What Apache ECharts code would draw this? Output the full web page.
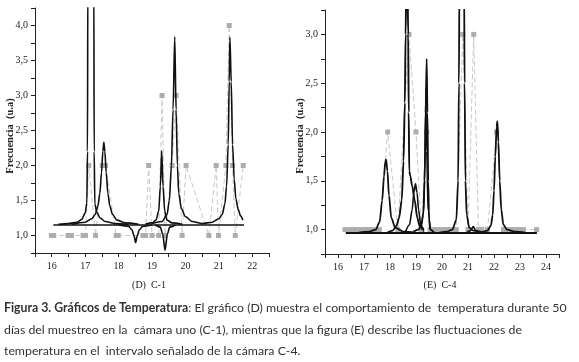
<!DOCTYPE html>
<html><head><meta charset="utf-8">
<script src="https://cdn.jsdelivr.net/npm/echarts@6/dist/echarts.min.js"></script>
<style>html,body{margin:0;padding:0;background:#fff}#c{width:579px;height:362px}</style>
</head><body><div id="c"></div>
<script>
// ---------- (D) C-1 ----------
const dMuestras = [[15.99,1],[16.06,1],[16.49,1],[16.59,1],[16.94,1],[17.01,1],[17.11,2],[17.31,1],[17.51,2],[17.61,2],[17.93,1],[17.99,1],[18.73,1],[18.81,1],[18.90,2],[19.0,1],[19.2,1],[19.30,3],[19.39,1],[19.60,2],[19.72,3],[19.90,1],[20.02,2],[20.70,1],[20.92,2],[20.99,1],[21.21,2],[21.31,4],[21.41,2],[21.49,1],[21.73,2]];
const dBase = [[16.05,1.15],[21.75,1.15]];
const dPico1 = [[16.2,1.16],[16.5,1.17],[16.75,1.19],[16.9,1.23],[17.0,1.32],[17.05,1.46],[17.07,2.2],[17.08,4.6],[17.17,8],[17.26,4.6],[17.27,2.2],[17.29,1.45],[17.35,1.33],[17.45,1.25],[17.6,1.2],[17.9,1.17],[18.3,1.16]];
const dPico2 = [[16.6,1.16],[17.0,1.19],[17.2,1.24],[17.3,1.3],[17.38,1.42],[17.44,1.6],[17.49,1.9],[17.53,2.2],[17.56,2.33],[17.59,2.2],[17.63,1.9],[17.68,1.6],[17.74,1.42],[17.82,1.3],[17.95,1.22],[18.2,1.18],[18.6,1.16]];
const dValle1 = [[18.0,1.15],[18.3,1.13],[18.4,1.08],[18.46,1.0],[18.51,0.9],[18.56,1.0],[18.62,1.08],[18.72,1.13],[19.0,1.15]];
const dPico3 = [[18.8,1.16],[19.0,1.18],[19.12,1.22],[19.2,1.35],[19.25,1.7],[19.29,2.21],[19.33,1.7],[19.38,1.35],[19.45,1.22],[19.6,1.18],[19.9,1.16]];
const dValle2 = [[19.1,1.15],[19.25,1.12],[19.32,1.02],[19.39,0.79],[19.46,1.02],[19.53,1.12],[19.7,1.15]];
const dPico4 = [[19.0,1.17],[19.3,1.2],[19.45,1.3],[19.52,1.5],[19.58,2.0],[19.63,2.8],[19.68,3.84],[19.72,2.8],[19.76,2.0],[19.8,1.6],[19.88,1.38],[20.0,1.27],[20.2,1.2],[20.5,1.17],[20.8,1.19],[21.0,1.24],[21.1,1.3],[21.18,1.45],[21.23,1.7],[21.28,2.3],[21.31,3.2],[21.33,3.83],[21.37,3.2],[21.41,2.3],[21.46,1.8],[21.51,1.52],[21.58,1.37],[21.65,1.28],[21.72,1.22]];

// ---------- (E) C-4 ----------
const eMuestras = [[16.27,1],[16.45,1],[16.6,1],[16.75,1],[16.91,1],[17.08,1],[17.2,1],[17.3,1],[17.45,1],[17.59,1],[17.91,2],[18.3,1],[18.73,3],[19.0,2],[19.2,1],[19.41,2],[19.54,1],[19.7,1],[19.85,1],[20.0,1],[20.1,1],[20.2,1],[20.3,1],[20.45,1],[20.55,1],[20.8,3],[21.0,1],[21.22,3],[21.4,1],[21.53,1],[21.75,1],[22.1,2],[22.36,1],[22.5,1],[22.6,1],[22.75,1],[22.9,1],[23.0,1],[23.13,1],[23.64,1]];
const eBase = [[16.3,0.965],[23.65,0.965]];
const ePico1 = [[16.8,0.97],[17.2,0.98],[17.45,1.0],[17.6,1.08],[17.7,1.3],[17.77,1.55],[17.82,1.7],[17.85,1.72],[17.9,1.6],[17.96,1.35],[18.05,1.12],[18.2,1.02],[18.5,0.98],[19.0,0.97]];
const ePico2 = [[17.9,0.97],[18.1,0.99],[18.25,1.04],[18.35,1.12],[18.45,1.3],[18.52,1.7],[18.57,2.3],[18.6,3.0],[18.63,3.6],[18.67,3.6],[18.7,3.0],[18.72,2.2],[18.74,1.6],[18.78,1.55],[18.85,1.45],[18.95,1.3],[19.05,1.12],[19.15,1.03],[19.3,1.0]];
const ePico3 = [[18.6,0.98],[18.75,1.05],[18.85,1.2],[18.92,1.38],[18.98,1.47],[19.04,1.38],[19.1,1.2],[19.18,1.05],[19.3,0.98]];
const ePico4 = [[18.9,0.98],[19.1,1.0],[19.2,1.05],[19.28,1.15],[19.33,1.5],[19.37,2.2],[19.41,2.75],[19.44,2.2],[19.47,1.5],[19.5,1.1],[19.55,1.0],[19.7,0.97]];
const ePico5 = [[19.2,1.0],[19.3,1.2],[19.35,1.8],[19.38,2.45],[19.41,1.8],[19.46,1.2],[19.55,1.0]];
const ePico6 = [[19.9,0.97],[20.2,0.98],[20.4,1.0],[20.55,1.1],[20.62,1.5],[20.65,2.5],[20.67,3.5],[20.76,4.5],[20.85,3.5],[20.87,2.5],[20.9,1.5],[20.95,1.15],[21.05,1.02],[21.2,0.99],[21.6,0.97]];
const ePico7 = [[20.95,0.97],[21.1,0.99],[21.2,1.03],[21.3,0.99],[21.45,0.97]];
const ePico8 = [[21.5,0.97],[21.75,0.99],[21.88,1.04],[21.95,1.15],[22.0,1.4],[22.05,1.75],[22.1,2.05],[22.13,2.11],[22.17,1.9],[22.22,1.5],[22.28,1.2],[22.36,1.05],[22.5,1.0],[22.8,0.98],[23.2,0.97]];

const serif = 'Liberation Serif';
function yFmt(v){ return Math.abs(v*2-Math.round(v*2))<1e-6 ? v.toFixed(1).replace('.',',') : ''; }
function xFmt(v){ return Math.abs(v-Math.round(v))<1e-6 ? String(Math.round(v)) : ''; }

function xAx(idx,min,max){
  return {gridIndex:idx,type:'value',min:min,max:max,interval:0.5,
    axisLine:{show:true,lineStyle:{color:'#222',width:1}},
    axisTick:{show:true,length:4,lineStyle:{color:'#222'}},
    axisLabel:{formatter:xFmt,fontFamily:serif,fontSize:10,color:'#222',margin:8,showMinLabel:true,showMaxLabel:true},
    splitLine:{show:false}};
}
function yAx(idx,min,max){
  return {gridIndex:idx,type:'value',min:min,max:max,interval:0.25,
    axisLine:{show:true,lineStyle:{color:'#222',width:1}},
    axisTick:{show:true,length:4,lineStyle:{color:'#222'}},
    axisLabel:{formatter:yFmt,fontFamily:serif,fontSize:10,color:'#222',margin:7},
    splitLine:{show:false}};
}
function grey(idx,data){
  return {type:'line',xAxisIndex:idx,yAxisIndex:idx,data:data,symbol:'rect',symbolSize:5,
    itemStyle:{color:'#adadad'},lineStyle:{color:'#c8c8c8',width:1,type:[5,3]},z:2};
}
function black(idx,data,w){
  return {type:'line',xAxisIndex:idx,yAxisIndex:idx,data:data,symbol:'none',smooth:0.3,smoothMonotone:'x',
    lineStyle:{color:'#111',width:w||1.6},z:3,clip:true};
}

const chart = echarts.init(document.getElementById('c'),null,{renderer:'canvas'});
chart.setOption({
  animation:false,
  backgroundColor:'#fff',
  grid:[{left:35,top:8,width:234,height:245},{left:325,top:10,width:234,height:244}],
  xAxis:[xAx(0,15.5,22.5),xAx(1,15.5,24.5)],
  yAxis:[yAx(0,0.75,4.25),yAx(1,0.75,3.25)],
  series:[
    grey(0,dMuestras),
    black(0,dBase,1.6),black(0,dPico1),black(0,dPico2),black(0,dValle1),black(0,dPico3),black(0,dValle2),black(0,dPico4),
    grey(1,eMuestras),
    black(1,eBase,2.2),black(1,ePico1,1.8),black(1,ePico2,1.9),black(1,ePico3,1.6),black(1,ePico4,1.8),black(1,ePico5,1.4),black(1,ePico6,1.8),black(1,ePico7,1.6),black(1,ePico8,1.8)
  ],
  graphic:[
    {type:'text',x:10,y:136,rotation:Math.PI/2,style:{text:'Frecuencia  (u.a)',font:'bold 10.5px "Liberation Serif"',fill:'#222',textAlign:'center',textVerticalAlign:'middle'}},
    {type:'text',x:300,y:136,rotation:Math.PI/2,style:{text:'Frecuencia  (u.a)',font:'bold 10.5px "Liberation Serif"',fill:'#222',textAlign:'center',textVerticalAlign:'middle'}},
    {type:'text',x:149,y:285,style:{text:'(D)  C-1',font:'10px "Liberation Serif"',fill:'#222',textAlign:'center',textVerticalAlign:'middle'}},
    {type:'text',x:440,y:285,style:{text:'(E)  C-4',font:'10px "Liberation Serif"',fill:'#222',textAlign:'center',textVerticalAlign:'middle'}},
    {type:'text',left:4,top:302,style:{text:'{b|Figura 3. Gráficos de Temperatura}: El gráfico (D) muestra el comportamiento de  temperatura durante 50',font:'12.3px Lato',fill:'#333',rich:{b:{fontWeight:'bold',fontFamily:'Lato',fontSize:12.3,fill:'#333'}}}},
    {type:'text',left:4,top:324,style:{text:'días del muestreo en la  cámara uno (C-1), mientras que la figura (E) describe las fluctuaciones de',font:'12.3px Lato',fill:'#333'}},
    {type:'text',left:4,top:345,style:{text:'temperatura en el  intervalo señalado de la cámara C-4.',font:'12.3px Lato',fill:'#333'}}
  ]
});
</script></body></html>
